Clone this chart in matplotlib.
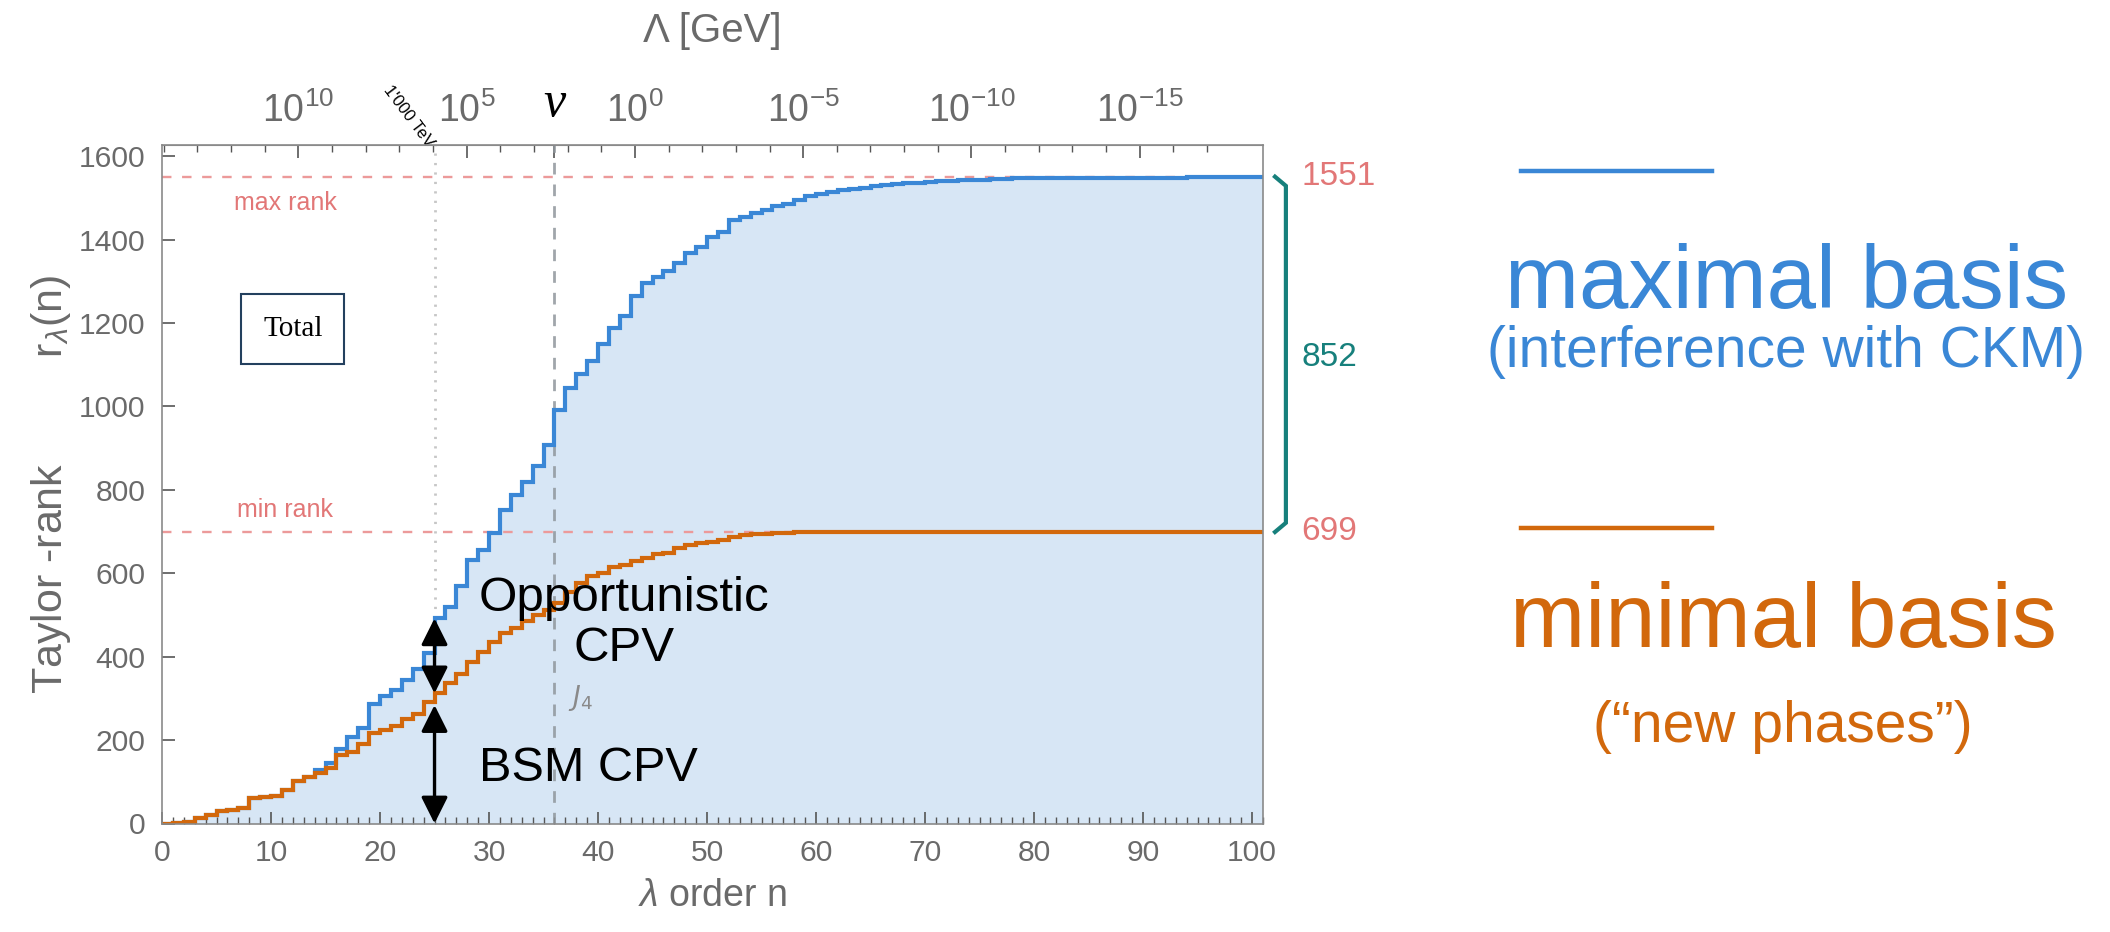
import numpy as np
import matplotlib
matplotlib.use("Agg")
import matplotlib.pyplot as plt
from matplotlib.lines import Line2D
from matplotlib.ticker import FixedLocator, MultipleLocator
from matplotlib import font_manager

# ---- data -------------------------------------------------------------
order_n = np.arange(0, 102)          # step edges n = 0 ... 101

rank_max = [0, 2, 3, 13, 21, 29, 33, 38, 61, 64,
            66, 81, 102, 111, 128, 144, 178, 207, 230, 287,
            305, 321, 345, 370, 408, 492, 520, 570, 632, 656,
            697, 752, 788, 820, 857, 908, 991, 1044, 1078, 1110,
            1150, 1187, 1218, 1265, 1297, 1311, 1325, 1345, 1367, 1383,
            1407, 1419, 1447, 1455, 1463, 1471, 1481, 1485, 1495, 1505,
            1510, 1514, 1518, 1522, 1525, 1528, 1531, 1533, 1535, 1537,
            1539, 1540, 1541, 1542, 1543, 1544, 1545, 1546, 1548, 1548,
            1548, 1548, 1548, 1548, 1548, 1548, 1548, 1548, 1548, 1548,
            1548, 1548, 1548, 1548, 1551, 1551, 1551, 1551, 1551, 1551,
            1551]

rank_min = [0, 2, 3, 13, 21, 29, 33, 38, 61, 64,
            66, 81, 102, 111, 120, 134, 165, 171, 190, 218,
            225, 233, 250, 263, 292, 312, 336, 358, 388, 412,
            436, 456, 468, 486, 500, 512, 529, 555, 577, 594,
            601, 616, 621, 629, 636, 646, 649, 660, 667, 673,
            676, 681, 686, 692, 694, 695, 696, 697, 698, 699,
            699, 699, 699, 699, 699, 699, 699, 699, 699, 699,
            699, 699, 699, 699, 699, 699, 699, 699, 699, 699,
            699, 699, 699, 699, 699, 699, 699, 699, 699, 699,
            699, 699, 699, 699, 699, 699, 699, 699, 699, 699,
            699]

max_rank = 1551
min_rank = 699
gap_rank = max_rank - min_rank

x_ticks = [0, 10, 20, 30, 40, 50, 60, 70, 80, 90, 100]
y_ticks = [0, 200, 400, 600, 800, 1000, 1200, 1400, 1600]
scale_exponents = [10, 5, 0, -5, -10, -15]
scale_labels = ["$10^{10}$", "$10^{5}$", "$10^{0}$",
                "$10^{-5}$", "$10^{-10}$", "$10^{-15}$"]

n_vev = 36          # order where Lambda = v
n_1000tev = 25      # order where Lambda = 1'000 TeV
vev_gev = 246.0
wolfenstein = 0.225

# ---- style ------------------------------------------------------------
BLUE = "#3a87d6"
ORANGE = "#d2680c"
FILL = "#d7e6f5"
SALMON = "#ec9a9a"
SALMON_TXT = "#e27777"
TEAL = "#17807c"
GRAY = "#6a6a6a"

installed = {f.name for f in font_manager.fontManager.ttflist}
NARROW = "Liberation Sans Narrow" if "Liberation Sans Narrow" in installed else "Liberation Sans"
narrow_scale = 1.0 if NARROW == "Liberation Sans Narrow" else 0.9

plt.rcParams["font.family"] = ["Liberation Sans", "DejaVu Sans"]
plt.rcParams["mathtext.fontset"] = "custom"
plt.rcParams["mathtext.rm"] = NARROW
plt.rcParams["mathtext.it"] = "Liberation Sans:italic"
plt.rcParams["mathtext.bf"] = "Liberation Sans:bold"

W, H = 2110, 932
fig = plt.figure(figsize=(W / 100, H / 100), dpi=100)


def fpos(x, y):
    """figure pixel position -> figure fraction"""
    return x / W, 1 - y / H


ax = fig.add_axes([162 / W, 1 - 823.5 / H, (1263 - 162) / W, (823.5 - 145) / H])
ax.set_xlim(0, 101)
ax.set_ylim(0, 1627)

# area under the maximal-basis rank and the two step curves
ax.stairs(rank_max, order_n, baseline=0, fill=True, color=FILL, lw=0, zorder=1)
ax.stairs(rank_max, order_n, baseline=None, color=BLUE, lw=3.0, zorder=5)
ax.stairs(rank_min, order_n, baseline=None, color=ORANGE, lw=3.0, zorder=6)

# reference lines
ax.axhline(max_rank, color=SALMON, lw=1.7, ls=(0, (4, 4.5)), zorder=3)
ax.axhline(min_rank, color=SALMON, lw=1.7, ls=(0, (4, 4.5)), zorder=3)
ax.text(11.3, max_rank - 62, "max rank", color=SALMON_TXT, fontsize=18,
        ha="center", va="center")
ax.text(11.3, min_rank + 52, "min rank", color=SALMON_TXT, fontsize=18,
        ha="center", va="center")

ax.axvline(n_vev, color="#8f969c", lw=2.0, ls=(0, (4.2, 3.6)), alpha=0.85, zorder=3)
ax.plot([n_1000tev, n_1000tev], [rank_max[n_1000tev], 1627], color="#c6c6c6",
        lw=2.0, ls=(0, (0.8, 2.6)), zorder=2)
ax.text(37.2, 300, "$J_4$", color="#8a8a8a", fontsize=19, ha="left", va="center",
        family="Liberation Sans", math_fontfamily="dejavusans")

# CPV arrows at n = 25
arrow_kw = dict(arrowstyle="<|-|>,head_length=0.9,head_width=0.45",
                color="black", lw=2.4, shrinkA=0, shrinkB=0, mutation_scale=18)
ax.annotate("", xy=(n_1000tev, 0), xytext=(n_1000tev, rank_min[n_1000tev - 1] - 8),
            arrowprops=arrow_kw, zorder=8)
ax.annotate("", xy=(n_1000tev, rank_min[n_1000tev]),
            xytext=(n_1000tev, rank_max[n_1000tev]), arrowprops=arrow_kw, zorder=8)
ax.text(42.4, 540, "Opportunistic", fontsize=35.5, ha="center", va="center", zorder=9)
ax.text(42.4, 420, "CPV", fontsize=35.5, ha="center", va="center", zorder=9)
ax.text(29.1, 133, "BSM CPV", fontsize=35, ha="left", va="center", zorder=9)

ax.text(12.0, 1185, "Total", family="Liberation Serif", fontsize=21,
        ha="center", va="center",
        bbox=dict(boxstyle="square,pad=0.75", fc="white", ec="#23405e", lw=1.5))

# axes decoration
for sp in ax.spines.values():
    sp.set_color("#8a8a8a")
    sp.set_linewidth(1.2)
    sp.set_zorder(7)
ax.set_xticks(x_ticks)
ax.xaxis.set_minor_locator(MultipleLocator(1))
ax.set_yticks(y_ticks)
ax.tick_params(axis="both", which="both", direction="in", colors="#555555",
               labelcolor=GRAY, labelsize=24 * narrow_scale, top=False, right=False)
ax.tick_params(axis="both", which="major", length=9, width=1.2)
ax.tick_params(axis="both", which="minor", length=5, width=1.0)
ax.tick_params(axis="x", pad=11)
ax.tick_params(axis="y", pad=12)
for lab in ax.get_xticklabels() + ax.get_yticklabels():
    lab.set_family(NARROW)
ax.set_xlabel(r"$\lambda$ order n", fontsize=27, color=GRAY, labelpad=8)
ax.set_ylabel(r"Taylor -rank         r$_\lambda$(n)", fontsize=31, color=GRAY,
              labelpad=4)

# energy scale on top:  Lambda = v * lambda^((n - 36)/2)
log_v = np.log10(vev_gev)
log_l = np.log10(wolfenstein)


def n_to_scale(n):
    return log_v + (np.asarray(n, dtype=float) - n_vev) / 2 * log_l


def scale_to_n(s):
    return n_vev + 2 * (np.asarray(s, dtype=float) - log_v) / log_l


sec = ax.secondary_xaxis("top", functions=(n_to_scale, scale_to_n))
sec.set_xticks(scale_exponents + [log_v], labels=scale_labels + [""])
sec.xaxis.set_minor_locator(FixedLocator(np.arange(-17, 15)))
sec.tick_params(which="both", direction="in", colors="#555555",
                labelcolor=GRAY, labelsize=30 * narrow_scale, pad=11)
sec.tick_params(which="major", length=9, width=1.2)
sec.tick_params(which="minor", length=5, width=1.0)
sec.spines["top"].set_color("#8a8a8a")
sec.set_xlabel("\u039b [GeV]", fontsize=29, color=GRAY, labelpad=36)

ax.text(n_vev, 1627 + 100, "v", family="Liberation Serif", style="italic",
        fontsize=36, ha="center", va="center", clip_on=False)
ax.text(22.6, 1696, "1'000 TeV", fontsize=12, rotation=-53,
        ha="center", va="center", clip_on=False)

# bracket on the right showing the difference between the two ranks
ax.plot([102.1, 103.1, 103.1, 102.1],
        [max_rank, max_rank - 22, min_rank + 22, min_rank],
        color=TEAL, lw=3, clip_on=False, solid_joinstyle="miter")
ax.text(104.5, max_rank, str(max_rank), color=SALMON_TXT, fontsize=24,
        ha="left", va="center", clip_on=False)
ax.text(104.5, min_rank, str(min_rank), color=SALMON_TXT, fontsize=24,
        ha="left", va="center", clip_on=False)
ax.text(104.5, (max_rank + min_rank) / 2 - 8, str(gap_rank), color=TEAL,
        fontsize=24, ha="left", va="center", clip_on=False)

# legend on the right
for y_px, col in [(171, BLUE), (528, ORANGE)]:
    x0, y0 = fpos(1521, y_px)
    x1, _ = fpos(1712, y_px)
    fig.add_artist(Line2D([x0, x1], [y0, y0], color=col, lw=3.2))

fig.text(*fpos(1787, 285), "maximal basis", color=BLUE, fontsize=64,
         ha="center", va="center")
fig.text(*fpos(1786, 352), "(interference with CKM)", color=BLUE, fontsize=41,
         ha="center", va="center")
fig.text(*fpos(1783, 624), "minimal basis", color=ORANGE, fontsize=65,
         ha="center", va="center")
fig.text(*fpos(1783, 727), "(\u201cnew phases\u201d)", color=ORANGE, fontsize=41,
         ha="center", va="center")

fig.savefig("out.png", dpi=100, facecolor="white")
